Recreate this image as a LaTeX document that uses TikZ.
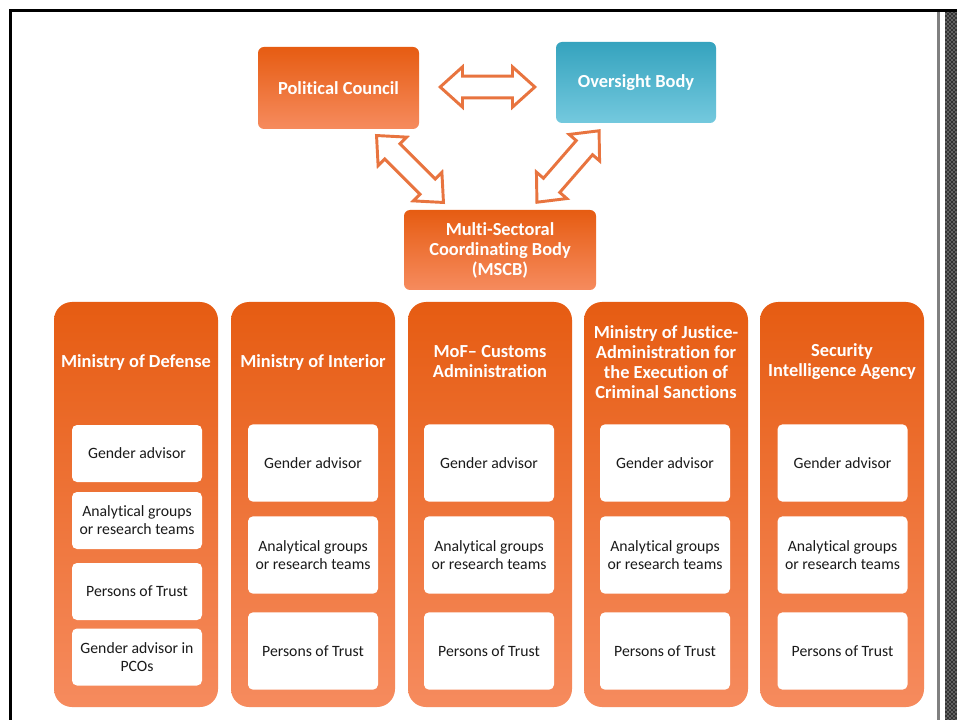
\documentclass[tikz,border=0pt]{standalone}
\usepackage{fontspec}
\setmainfont{Carlito}[Ligatures=NoCommon]
\usetikzlibrary{shapes.arrows,patterns}
\definecolor{ortop}{HTML}{E65C12}
\definecolor{orbot}{HTML}{F68B5E}
\definecolor{tltop}{HTML}{35A3BE}
\definecolor{tlbot}{HTML}{74C9DE}
\definecolor{arrowc}{HTML}{E8743F}
\definecolor{txt}{HTML}{1A1A1A}
\begin{document}
\begin{tikzpicture}[x=0.75pt,y=-0.75pt,
  orbox/.style={rounded corners=4.5pt, top color=ortop, bottom color=orbot, draw=none,
    text=white, font=\bfseries\fontsize{13.8}{15}\selectfont, align=center, inner sep=0pt},
  tlbox/.style={orbox, top color=tltop, bottom color=tlbot},
  colbox/.style={rounded corners=13.5pt, top color=ortop, bottom color=orbot, draw=none,
    minimum width=123pt, minimum height=303.75pt, inner sep=0pt},
  colhead/.style={text=white, font=\bfseries\fontsize{13.8}{15}\selectfont, align=center, inner sep=0pt},
  inbox/.style={rounded corners=3.75pt, fill=white, draw=none, minimum width=97.5pt,
    text=txt, font=\fontsize{11.8}{13.5}\selectfont, align=center, inner sep=0pt},
  inboxA/.style={inbox, minimum height=42.75pt},
  inboxB/.style={inbox, minimum height=58pt},
  blockarrow/.style={double arrow, draw=arrowc, fill=white, line width=2.2pt,
    inner xsep=0pt, inner ysep=7pt, double arrow head extend=7pt,
    double arrow tip angle=84, minimum height=71pt}
]
\useasboundingbox (0,0) rectangle (957,720);
\fill[white] (0,0) rectangle (957,720);

% frame and right strip
\fill[black!80] (945,12) rectangle (957,720);
\fill[pattern=crosshatch dots, pattern color=white!70] (945,12) rectangle (957,720);
\draw[gray, line width=1.8pt] (938.5,10) -- (938.5,720);
\draw[black, line width=2pt] (10.5,720) -- (10.5,10.5) -- (957,10.5);

% top nodes
\node[orbox, minimum width=120.75pt, minimum height=61.5pt] (pc) at (338.5,88) {Political Council};
\node[tlbox, minimum width=120pt, minimum height=60.75pt] (ob) at (636,82.5) {Oversight Body};
\node[orbox, minimum width=144pt, minimum height=60pt] (mscb) at (500,250) {Multi-Sectoral\\Coordinating Body\\(MSCB)};

% block arrows
\node[blockarrow] (a1) at (487.5,87) {};
\node[blockarrow, rotate=-45] (a2) at (410,169) {};
\node[blockarrow, rotate=49] (a3) at (568,166.5) {};

% columns
\foreach \n/\cx in {1/136, 2/313, 3/490, 4/666, 5/842}{
  \node[colbox] (col\n) at (\cx,504.5) {};
}
\node[colhead] (h1) at (136,362) {Ministry of Defense};
\node[colhead] (h2) at (313,362) {Ministry of Interior};
\node[colhead] (h3) at (490,362) {MoF– Customs\\Administration};
\node[colhead] (h4) at (666,362) {Ministry of Justice-\\Administration for\\the Execution of\\Criminal Sanctions};
\node[colhead] (h5) at (842,362) {Security\\Intelligence Agency};

% column 1 inner boxes
\node[inboxA] (c1a) at (137,453.5) {Gender advisor};
\node[inboxA] (c1b) at (137,520.5) {Analytical groups\\or research teams};
\node[inboxA] (c1c) at (137,591.5) {Persons of Trust};
\node[inboxA] (c1d) at (137,657) {Gender advisor in\\PCOs};

% columns 2-5 inner boxes
\foreach \n/\ix in {2/313, 3/489, 4/665, 5/842.5}{
  \node[inboxB] (c\n a) at (\ix,463) {Gender advisor};
  \node[inboxB] (c\n b) at (\ix,555) {Analytical groups\\or research teams};
  \node[inboxB] (c\n c) at (\ix,651) {Persons of Trust};
}
\end{tikzpicture}
\end{document}
